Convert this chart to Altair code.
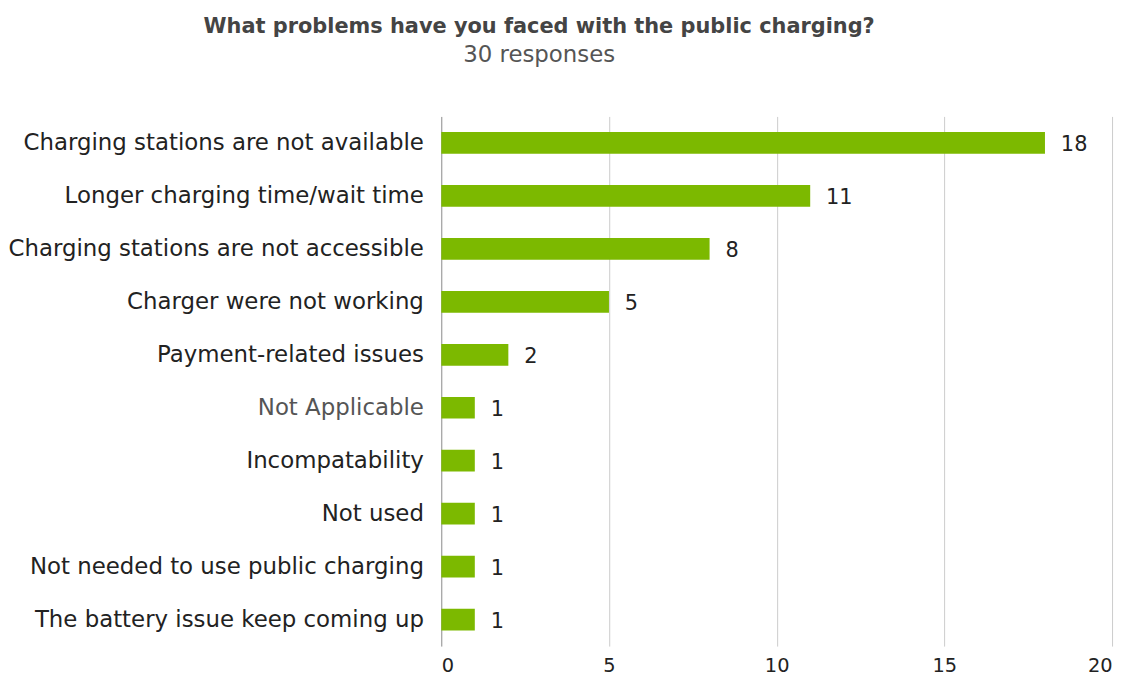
import altair as alt
import pandas as pd

categories = [
    "Charging stations are not available",
    "Longer charging time/wait time",
    "Charging stations are not accessible",
    "Charger were not working",
    "Payment-related issues",
    "Not Applicable",
    "Incompatability",
    "Not used",
    "Not needed to use public charging",
    "The battery issue keep coming up",
]
counts = [18, 11, 8, 5, 2, 1, 1, 1, 1, 1]
x_ticks = [0, 5, 10, 15, 20]

df = pd.DataFrame({"cat": categories, "n": counts})

FONT = "DejaVu Sans"
y_enc = alt.Y(
    "cat:N",
    sort=categories,
    title=None,
    scale=alt.Scale(paddingInner=0.59, paddingOuter=0.295),
    axis=alt.Axis(
        domain=False,
        ticks=False,
        labelFont=FONT,
        labelFontSize=23,
        labelColor={"expr": "datum.value == 'Not Applicable' ? '#555555' : '#222222'"},
        labelPadding=18,
        labelLimit=500,
    ),
)
x_enc = alt.X(
    "n:Q",
    title=None,
    scale=alt.Scale(domain=[0, 20], nice=False),
    axis=alt.Axis(
        values=x_ticks,
        domain=False,
        ticks=False,
        grid=True,
        gridColor={"expr": "datum.value == 0 ? '#8a8a8a' : '#cccccc'"},
        gridWidth=1,
        labelFont=FONT,
        labelFontSize=19.5,
        labelColor="#222222",
        labelPadding=11,
    ),
)

bars = alt.Chart(df).mark_bar(color="#7cb900").encode(x=x_enc, y=y_enc)
text = alt.Chart(df).mark_text(
    align="left", baseline="middle", dx=16, dy=2, font=FONT, fontSize=21, color="#222222"
).encode(x="n:Q", y=alt.Y("cat:N", sort=categories), text="n:Q")

chart = (
    alt.layer(bars, text)
    .properties(
        width=675,
        height=533,
        padding={"left": 436, "top": 107, "right": 8, "bottom": 30},
        autosize=alt.AutoSizeParams(type="none"),
        title=alt.TitleParams(
            text="What problems have you faced with the public charging?",
            subtitle="30 responses",
            anchor="middle",
            dx=-239,
            offset=50,
            font=FONT,
            fontSize=21,
            fontWeight="bold",
            color="#444444",
            subtitleFont=FONT,
            subtitleFontSize=23,
            subtitleColor="#555555",
            subtitlePadding=7,
        ),
    )
    .configure_view(stroke=None)
)

chart.save("out.html", embed_options={"renderer": "svg", "actions": False})
